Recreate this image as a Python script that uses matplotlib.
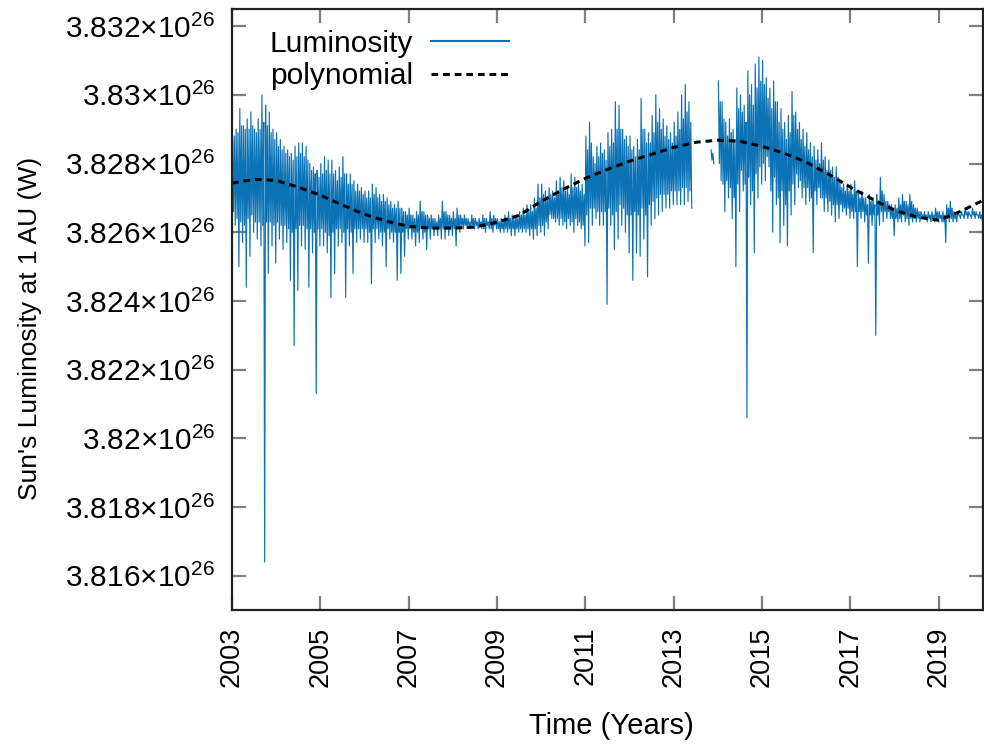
import numpy as np
import matplotlib
matplotlib.use("Agg")
import matplotlib.pyplot as plt
from matplotlib.lines import Line2D
from matplotlib.ticker import FixedLocator, FuncFormatter

plt.rcParams["font.family"] = ["Liberation Sans", "DejaVu Sans"]
plt.rcParams["mathtext.fontset"] = "custom"
plt.rcParams["mathtext.rm"] = "Liberation Sans"
plt.rcParams["mathtext.it"] = "Liberation Sans:italic"
plt.rcParams["mathtext.bf"] = "Liberation Sans:bold"

# ---------------------------------------------------------------------------
# Solar luminosity at 1 AU, in units of 1e26 W.
# One row per year (2003 .. 2019), twelve monthly values per row.
#   lum_hi / lum_lo   : highest and lowest excursion within the month
#   core_hi / core_lo : upper and lower edge of the dense daily band
# nan marks the data gap in 2013.
# ---------------------------------------------------------------------------
nan = np.nan
start_year = 2003

lum_hi = [
    [3.8287, 3.8290, 3.8296, 3.8291, 3.8293, 3.8295, 3.8290, 3.8293, 3.8300, 3.8297, 3.8295, 3.8290],  # 2003
    [3.8289, 3.8287, 3.8285, 3.8284, 3.8283, 3.8285, 3.8286, 3.8286, 3.8285, 3.8280, 3.8279, 3.8278],  # 2004
    [3.8280, 3.8282, 3.8281, 3.8281, 3.8278, 3.8279, 3.8282, 3.8277, 3.8277, 3.8275, 3.8274, 3.8273],  # 2005
    [3.8272, 3.8272, 3.8274, 3.8273, 3.8271, 3.8271, 3.8270, 3.8269, 3.8268, 3.8269, 3.8267, 3.8266],  # 2006
    [3.8267, 3.8265, 3.8266, 3.8269, 3.8266, 3.8265, 3.8265, 3.8264, 3.8265, 3.8269, 3.8266, 3.8265],  # 2007
    [3.8266, 3.8267, 3.8265, 3.8265, 3.8264, 3.8265, 3.8264, 3.8264, 3.8265, 3.8264, 3.8266, 3.8265],  # 2008
    [3.8264, 3.8264, 3.8265, 3.8266, 3.8265, 3.8265, 3.8266, 3.8267, 3.8268, 3.8268, 3.8270, 3.8274],  # 2009
    [3.8274, 3.8272, 3.8273, 3.8272, 3.8275, 3.8276, 3.8275, 3.8273, 3.8277, 3.8276, 3.8275, 3.8274],  # 2010
    [3.8288, 3.8292, 3.8282, 3.8285, 3.8286, 3.8284, 3.8289, 3.8290, 3.8298, 3.8297, 3.8290, 3.8288],  # 2011
    [3.8288, 3.8285, 3.8287, 3.8299, 3.8290, 3.8289, 3.8294, 3.8300, 3.8296, 3.8293, 3.8291, 3.8289],  # 2012
    [3.8292, 3.8295, 3.8300, 3.8303, 3.8298, nan, nan, nan, nan, nan, 3.8284, nan],                    # 2013
    [3.8304, 3.8298, 3.8292, 3.8293, 3.8290, 3.8302, 3.8300, 3.8297, 3.8307, 3.8303, 3.8309, 3.8311],  # 2014
    [3.8310, 3.8305, 3.8302, 3.8304, 3.8298, 3.8296, 3.8292, 3.8294, 3.8301, 3.8295, 3.8292, 3.8290],  # 2015
    [3.8289, 3.8286, 3.8285, 3.8284, 3.8286, 3.8282, 3.8281, 3.8279, 3.8279, 3.8275, 3.8274, 3.8274],  # 2016
    [3.8274, 3.8275, 3.8272, 3.8272, 3.8270, 3.8271, 3.8270, 3.8271, 3.8276, 3.8271, 3.8269, 3.8268],  # 2017
    [3.8268, 3.8270, 3.8271, 3.8269, 3.8271, 3.8268, 3.8267, 3.8266, 3.8266, 3.8266, 3.8266, 3.8267],  # 2018
    [3.8266, 3.8266, 3.8268, 3.8269, 3.8266, 3.8266, 3.8266, 3.8267, 3.8266, 3.8267, 3.8266, 3.8266],  # 2019
]

lum_lo = [
    [3.8262, 3.8250, 3.8257, 3.8244, 3.8253, 3.8260, 3.8258, 3.8256, 3.8164, 3.8248, 3.8256, 3.8251],  # 2003
    [3.8258, 3.8255, 3.8257, 3.8246, 3.8227, 3.8243, 3.8256, 3.8255, 3.8244, 3.8254, 3.8213, 3.8256],  # 2004
    [3.8256, 3.8254, 3.8241, 3.8248, 3.8256, 3.8257, 3.8241, 3.8256, 3.8248, 3.8257, 3.8258, 3.8257],  # 2005
    [3.8257, 3.8245, 3.8257, 3.8258, 3.8256, 3.8250, 3.8258, 3.8257, 3.8246, 3.8248, 3.8253, 3.8258],  # 2006
    [3.8258, 3.8256, 3.8257, 3.8258, 3.8255, 3.8258, 3.8259, 3.8259, 3.8258, 3.8258, 3.8259, 3.8259],  # 2007
    [3.8256, 3.8260, 3.8261, 3.8261, 3.8261, 3.8261, 3.8261, 3.8261, 3.8260, 3.8261, 3.8260, 3.8261],  # 2008
    [3.8260, 3.8260, 3.8260, 3.8259, 3.8259, 3.8260, 3.8260, 3.8260, 3.8259, 3.8258, 3.8259, 3.8260],  # 2009
    [3.8259, 3.8261, 3.8264, 3.8263, 3.8262, 3.8262, 3.8261, 3.8262, 3.8260, 3.8262, 3.8261, 3.8256],  # 2010
    [3.8257, 3.8262, 3.8264, 3.8262, 3.8262, 3.8239, 3.8262, 3.8255, 3.8258, 3.8262, 3.8260, 3.8254],  # 2011
    [3.8246, 3.8254, 3.8253, 3.8258, 3.8247, 3.8262, 3.8264, 3.8265, 3.8266, 3.8267, 3.8267, 3.8268],  # 2012
    [3.8268, 3.8268, 3.8268, 3.8269, 3.8267, nan, nan, nan, nan, nan, 3.8280, nan],                    # 2013
    [3.8275, 3.8266, 3.8270, 3.8264, 3.8250, 3.8266, 3.8272, 3.8206, 3.8268, 3.8254, 3.8270, 3.8274],  # 2014
    [3.8275, 3.8279, 3.8260, 3.8268, 3.8257, 3.8262, 3.8256, 3.8265, 3.8268, 3.8273, 3.8270, 3.8268],  # 2015
    [3.8269, 3.8254, 3.8268, 3.8270, 3.8266, 3.8266, 3.8265, 3.8263, 3.8264, 3.8266, 3.8265, 3.8264],  # 2016
    [3.8264, 3.8250, 3.8264, 3.8263, 3.8251, 3.8262, 3.8230, 3.8262, 3.8263, 3.8264, 3.8264, 3.8259],  # 2017
    [3.8263, 3.8263, 3.8263, 3.8262, 3.8263, 3.8263, 3.8263, 3.8264, 3.8263, 3.8263, 3.8263, 3.8263],  # 2018
    [3.8263, 3.8257, 3.8263, 3.8263, 3.8263, 3.8264, 3.8264, 3.8264, 3.8264, 3.8264, 3.8264, 3.8263],  # 2019
]

core_hi = [
    [3.8288, 3.8289, 3.8291, 3.8290, 3.8290, 3.8291, 3.8289, 3.8290, 3.8292, 3.8291, 3.8289, 3.8287],  # 2003
    [3.8285, 3.8284, 3.8283, 3.8282, 3.8281, 3.8282, 3.8283, 3.8282, 3.8281, 3.8278, 3.8277, 3.8276],  # 2004
    [3.8277, 3.8278, 3.8277, 3.8277, 3.8275, 3.8276, 3.8277, 3.8274, 3.8274, 3.8272, 3.8272, 3.8271],  # 2005
    [3.8270, 3.8270, 3.8271, 3.8270, 3.8269, 3.8269, 3.8268, 3.8267, 3.8267, 3.8267, 3.8266, 3.8265],  # 2006
    [3.8265, 3.8264, 3.8265, 3.8266, 3.8265, 3.8264, 3.8264, 3.8263, 3.8264, 3.8266, 3.8265, 3.8264],  # 2007
    [3.8264, 3.8265, 3.8264, 3.8264, 3.8263, 3.8264, 3.8263, 3.8263, 3.8264, 3.8263, 3.8264, 3.8264],  # 2008
    [3.8263, 3.8263, 3.8264, 3.8264, 3.8264, 3.8264, 3.8265, 3.8265, 3.8266, 3.8266, 3.8267, 3.8270],  # 2009
    [3.8271, 3.8270, 3.8271, 3.8270, 3.8272, 3.8273, 3.8272, 3.8271, 3.8273, 3.8273, 3.8272, 3.8271],  # 2010
    [3.8284, 3.8286, 3.8280, 3.8282, 3.8283, 3.8281, 3.8285, 3.8286, 3.8290, 3.8290, 3.8287, 3.8285],  # 2011
    [3.8284, 3.8282, 3.8284, 3.8290, 3.8286, 3.8286, 3.8289, 3.8292, 3.8290, 3.8288, 3.8287, 3.8286],  # 2012
    [3.8288, 3.8290, 3.8293, 3.8295, 3.8292, nan, nan, nan, nan, nan, 3.8283, nan],                    # 2013
    [3.8298, 3.8293, 3.8288, 3.8289, 3.8287, 3.8296, 3.8295, 3.8292, 3.8300, 3.8297, 3.8302, 3.8304],  # 2014
    [3.8303, 3.8299, 3.8296, 3.8298, 3.8292, 3.8290, 3.8287, 3.8289, 3.8294, 3.8290, 3.8287, 3.8285],  # 2015
    [3.8284, 3.8282, 3.8281, 3.8280, 3.8281, 3.8278, 3.8278, 3.8276, 3.8276, 3.8273, 3.8272, 3.8272],  # 2016
    [3.8271, 3.8272, 3.8270, 3.8270, 3.8268, 3.8269, 3.8268, 3.8269, 3.8272, 3.8269, 3.8268, 3.8267],  # 2017
    [3.8267, 3.8268, 3.8269, 3.8268, 3.8269, 3.8267, 3.8266, 3.8265, 3.8265, 3.8265, 3.8265, 3.8266],  # 2018
    [3.8265, 3.8265, 3.8267, 3.8267, 3.8265, 3.8265, 3.8265, 3.8266, 3.8265, 3.8266, 3.8265, 3.8265],  # 2019
]

core_lo = [
    [3.8266, 3.8264, 3.8263, 3.8262, 3.8264, 3.8265, 3.8263, 3.8263, 3.8262, 3.8263, 3.8263, 3.8262],  # 2003
    [3.8263, 3.8262, 3.8262, 3.8261, 3.8260, 3.8261, 3.8262, 3.8262, 3.8261, 3.8261, 3.8260, 3.8261],  # 2004
    [3.8261, 3.8260, 3.8259, 3.8260, 3.8261, 3.8261, 3.8260, 3.8261, 3.8260, 3.8261, 3.8261, 3.8261],  # 2005
    [3.8261, 3.8260, 3.8261, 3.8261, 3.8260, 3.8260, 3.8261, 3.8260, 3.8260, 3.8260, 3.8260, 3.8261],  # 2006
    [3.8261, 3.8260, 3.8260, 3.8261, 3.8260, 3.8261, 3.8261, 3.8261, 3.8261, 3.8261, 3.8261, 3.8261],  # 2007
    [3.8261, 3.8261, 3.8262, 3.8262, 3.8262, 3.8262, 3.8262, 3.8262, 3.8261, 3.8262, 3.8261, 3.8262],  # 2008
    [3.8261, 3.8261, 3.8261, 3.8261, 3.8261, 3.8261, 3.8261, 3.8261, 3.8261, 3.8261, 3.8261, 3.8262],  # 2009
    [3.8262, 3.8263, 3.8265, 3.8264, 3.8264, 3.8264, 3.8263, 3.8264, 3.8263, 3.8264, 3.8263, 3.8262],  # 2010
    [3.8265, 3.8267, 3.8267, 3.8266, 3.8266, 3.8266, 3.8267, 3.8265, 3.8266, 3.8268, 3.8267, 3.8265],  # 2011
    [3.8265, 3.8266, 3.8265, 3.8267, 3.8265, 3.8268, 3.8269, 3.8270, 3.8271, 3.8271, 3.8271, 3.8272],  # 2012
    [3.8272, 3.8272, 3.8273, 3.8273, 3.8272, nan, nan, nan, nan, nan, 3.8281, nan],                    # 2013
    [3.8280, 3.8274, 3.8275, 3.8273, 3.8270, 3.8274, 3.8278, 3.8274, 3.8276, 3.8272, 3.8277, 3.8279],  # 2014
    [3.8280, 3.8282, 3.8272, 3.8276, 3.8270, 3.8272, 3.8268, 3.8272, 3.8274, 3.8277, 3.8275, 3.8273],  # 2015
    [3.8273, 3.8270, 3.8272, 3.8273, 3.8270, 3.8270, 3.8269, 3.8268, 3.8268, 3.8268, 3.8267, 3.8267],  # 2016
    [3.8266, 3.8266, 3.8266, 3.8266, 3.8265, 3.8265, 3.8265, 3.8265, 3.8266, 3.8266, 3.8266, 3.8264],  # 2017
    [3.8264, 3.8264, 3.8265, 3.8264, 3.8264, 3.8264, 3.8264, 3.8265, 3.8264, 3.8264, 3.8264, 3.8264],  # 2018
    [3.8264, 3.8263, 3.8264, 3.8264, 3.8264, 3.8265, 3.8265, 3.8265, 3.8265, 3.8265, 3.8265, 3.8264],  # 2019
]

# Polynomial trend, sampled every half year from 2003.0 to 2020.0 (1e26 W)
poly_years = [2003.0 + 0.5 * k for k in range(35)]
poly_vals = [
    3.82743, 3.82754, 3.82751, 3.82731, 3.82708, 3.82679, 3.82652, 3.82632,
    3.82617, 3.82612, 3.82612, 3.82615, 3.82629, 3.82649, 3.82690, 3.82725,
    3.82757, 3.82783, 3.82807, 3.82827, 3.82847, 3.82862, 3.82868, 3.82865,
    3.82850, 3.82830, 3.82804, 3.82769, 3.82731, 3.82696, 3.82664, 3.82644,
    3.82635, 3.82661, 3.82693,
]

x_ticks = list(range(2003, 2020, 2))
y_ticks = [3.816, 3.818, 3.820, 3.822, 3.824, 3.826, 3.828, 3.830, 3.832]

UNIT = 1e26
BLUE = "#0b72b5"

# Within each month the trace visits: peak, band bottom, band top, dip
month_vals = np.stack([np.array(a, dtype=float).ravel()
                       for a in (lum_hi, core_lo, core_hi, lum_lo)], axis=1)
n_months = month_vals.shape[0]
month_t = start_year + np.arange(n_months) / 12.0
sub_t = (np.arange(4) + 0.5) / 4.0 / 12.0
trace_t = (month_t[:, None] + sub_t[None, :]).ravel()
trace_v = month_vals.ravel() * UNIT

fig = plt.figure(figsize=(9.84, 7.48), dpi=100)
W, H = 984.0, 748.0
ax = fig.add_axes([232 / W, 138 / H, (983 - 232) / W, (610 - 9) / H])

ax.plot(trace_t, trace_v, color=BLUE, lw=0.85)
ax.plot(poly_years, np.array(poly_vals) * UNIT, color="black", lw=2.2,
        linestyle=(0, (2.2, 1.6)))

ax.set_xlim(2003, 2020)
ax.set_ylim(3.815 * UNIT, 3.8325 * UNIT)

ax.xaxis.set_major_locator(FixedLocator(x_ticks))
ax.yaxis.set_major_locator(FixedLocator([v * UNIT for v in y_ticks]))


def sci_label(val, pos):
    mant = f"{val / UNIT:.3f}".rstrip("0")
    return r"$\mathregular{" + mant + r"{\times}10^{26}}$"


ax.yaxis.set_major_formatter(FuncFormatter(sci_label))
ax.xaxis.set_major_formatter(FuncFormatter(lambda v, p: f"{int(round(v))}"))

ax.tick_params(axis="both", which="major", direction="in", length=10, width=1.6,
               color="#7f7f7f", top=True, right=True)
ax.tick_params(axis="y", pad=12, labelsize=21.5)
ax.tick_params(axis="x", pad=12, labelsize=19.5, labelrotation=90)

for sp in ax.spines.values():
    sp.set_linewidth(1.6)
    sp.set_color("#222222")

xl = ax.set_xlabel("Time (Years)", fontsize=21)
xl.set_verticalalignment("center")
ax.xaxis.set_label_coords((611 - 232) / 751, (610 - 726) / 601)

yl = ax.set_ylabel("Sun's Luminosity at 1 AU (W)", fontsize=19)
yl.set_verticalalignment("center")
ax.yaxis.set_label_coords((30 - 232) / 751, (610 - 328) / 601)

handles = [
    Line2D([], [], color=BLUE, lw=1.5),
    Line2D([], [], color="black", lw=2.2, linestyle=(0, (2.2, 1.6))),
]
ax.legend(handles, ["Luminosity", "polynomial"], loc="upper left",
          bbox_to_anchor=(249 / W, 739 / H), bbox_transform=fig.transFigure,
          frameon=False, markerfirst=False, fontsize=21.5, handlelength=2.6,
          handletextpad=0.6, labelspacing=0.15, borderpad=0.2)

fig.savefig("out.png", dpi=100)
